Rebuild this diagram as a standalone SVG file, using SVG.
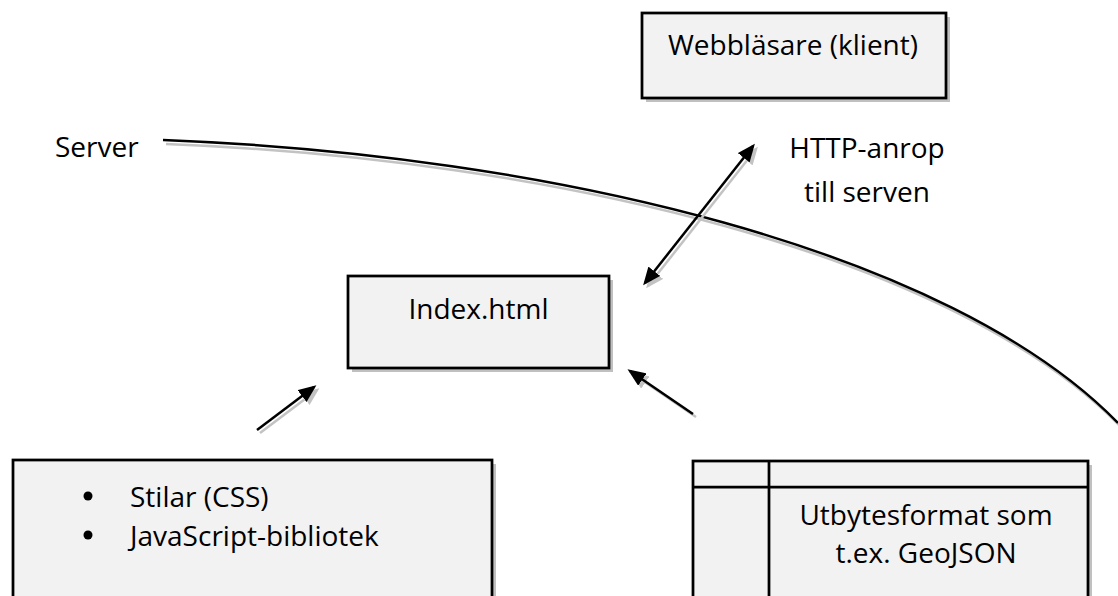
<svg xmlns="http://www.w3.org/2000/svg" width="1118" height="596" viewBox="0 0 1118 596">
<defs>
<style>
.box{fill:#f2f2f2;stroke:#000;stroke-width:2.75}
.shadow{fill:#c0c0c0;stroke:none}
.t{font-family:"Open Sans","Noto Sans",sans-serif;font-size:28px;fill:#000}
.m{text-anchor:middle}
.ln{fill:none;stroke:#000;stroke-width:2.5}
.lns{fill:none;stroke:#c3c3c3;stroke-width:2.5}
</style>
<marker id="ah" markerUnits="userSpaceOnUse" markerWidth="18" markerHeight="15" viewBox="0 0 18 15" refX="15" refY="7.5" orient="auto-start-reverse">
<path d="M0,0 L18,7.5 L0,15 z" fill="#000"/>
</marker>
<marker id="ahs" markerUnits="userSpaceOnUse" markerWidth="18" markerHeight="15" viewBox="0 0 18 15" refX="15" refY="7.5" orient="auto-start-reverse">
<path d="M0,0 L18,7.5 L0,15 z" fill="#c3c3c3"/>
</marker>
</defs>
<rect width="1118" height="596" fill="#fff"/>

<g id="connectors">
<g transform="translate(3,4)">
<path class="lns" d="M163,140 C550,155 950,250 1118,423"/>
</g>
<path class="ln" d="M163,140 C550,155 950,250 1118,423"/>
<g transform="translate(3,3)">
<line class="lns" x1="645" y1="283" x2="753" y2="146" marker-start="url(#ahs)" marker-end="url(#ahs)"/>
<line class="lns" x1="257" y1="430" x2="314" y2="387" marker-end="url(#ahs)"/>
<line class="lns" x1="693" y1="414" x2="630" y2="371" marker-end="url(#ahs)"/>
</g>
<line class="ln" x1="645" y1="283" x2="753" y2="146" marker-start="url(#ah)" marker-end="url(#ah)"/>
<line class="ln" x1="257" y1="430" x2="314" y2="387" marker-end="url(#ah)"/>
<line class="ln" x1="693" y1="414" x2="630" y2="371" marker-end="url(#ah)"/>
</g>

<g id="client">
<rect class="shadow" x="646" y="17" width="304" height="85"/>
<rect class="box" x="642" y="13" width="304" height="85"/>
<text class="t m" x="793" y="55">Webbläsare (klient)</text>
</g>

<g id="server-label">
<text class="t" x="55" y="157">Server</text>
</g>

<g id="http-label">
<text class="t m" x="867" y="158">HTTP-anrop</text>
<text class="t m" x="867" y="202">till serven</text>
</g>

<g id="index">
<rect class="shadow" x="352" y="280" width="261" height="92"/>
<rect class="box" x="348" y="276" width="261" height="92"/>
<text class="t m" x="478.5" y="319">Index.html</text>
</g>

<g id="libraries">
<rect class="shadow" x="17" y="464" width="479" height="160"/>
<rect class="box" x="13" y="460" width="479" height="160"/>
<circle cx="88" cy="496" r="4.5" fill="#000"/>
<circle cx="88" cy="535" r="4.5" fill="#000"/>
<text class="t" x="130" y="507">Stilar (CSS)</text>
<text class="t" x="130" y="546">JavaScript-bibliotek</text>
</g>

<g id="data">
<rect class="shadow" x="697" y="465" width="395" height="160"/>
<rect class="box" x="693" y="461" width="395" height="160"/>
<line x1="769" y1="461" x2="769" y2="621" stroke="#000" stroke-width="2.75"/>
<line x1="693" y1="487" x2="1088" y2="487" stroke="#000" stroke-width="2.75"/>
<text class="t m" x="926" y="525">Utbytesformat som</text>
<text class="t m" x="926" y="563">t.ex. GeoJSON</text>
</g>
</svg>
